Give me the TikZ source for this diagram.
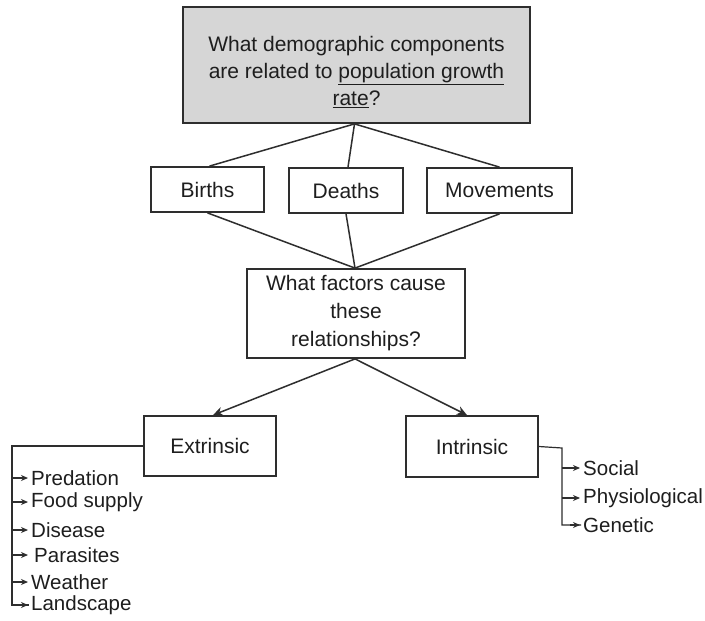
\documentclass[tikz,border=0pt]{standalone}
\usepackage{fontspec}
\setmainfont{Liberation Sans}
\usetikzlibrary{arrows.meta}
\definecolor{linec}{HTML}{2E2E2E}
\definecolor{topfill}{HTML}{D6D6D6}
\definecolor{txt}{HTML}{1E1E1E}
\begin{document}
\begin{tikzpicture}[x=1pt,y=-1pt,
  box/.style={draw=linec, line width=1.8pt, inner sep=2pt, align=center, text=txt,
    font=\fontsize{21}{28}\selectfont},
  conn/.style={draw=linec, line width=1.5pt},
  bigarrow/.style={conn, -{Stealth[length=10pt,width=9pt]}},
  smallarrow/.style={conn, line width=1.2pt, -{Stealth[length=7pt,width=6pt]}},
  item/.style={anchor=west, inner sep=0pt, text=txt, font=\fontsize{20.5}{24}\selectfont}
]
\useasboundingbox[fill=white] (0,0) rectangle (705,621);

% boxes
\node[box, fill=topfill, minimum width=347pt, minimum height=116pt] (q1) at (356.5,65) {};
\node[inner sep=0pt, align=center, text=txt, font=\fontsize{21}{27}\selectfont] (q1t) at (356.5,72)
  {What demographic components\\are related to \underline{population growth}\\\underline{rate}?};
\node[box, minimum width=113pt, minimum height=45pt] (births) at (207.5,189.5) {Births};
\node[box, minimum width=114pt, minimum height=45pt] (deaths) at (346,190.5) {Deaths};
\node[box, minimum width=145pt, minimum height=45pt] (moves) at (499.5,190.5) {Movements};
\node[box, minimum width=218pt, minimum height=89pt] (q2) at (356,313.5)
  {What factors cause\\these\\relationships?};
\node[box, minimum width=132pt, minimum height=60pt] (ext) at (210,446) {Extrinsic};
\node[box, minimum width=132pt, minimum height=61pt] (intr) at (472,446.5) {Intrinsic};

% top connectors
\draw[conn] ([xshift=-2pt]q1.south) -- ([xshift=2pt]births.north);
\draw[conn] ([xshift=-2pt]q1.south) -- ([xshift=2pt]deaths.north);
\draw[conn] ([xshift=-2pt]q1.south) -- (moves.north);
\draw[conn] (births.south) -- ([xshift=-1pt]q2.north);
\draw[conn] (deaths.south) -- ([xshift=-1pt]q2.north);
\draw[conn] (moves.south) -- ([xshift=-1pt]q2.north);

% arrows to extrinsic / intrinsic
\draw[bigarrow] ([xshift=-1pt]q2.south) -- ([xshift=3pt]ext.north);
\draw[bigarrow] ([xshift=-1pt]q2.south) -- ([xshift=-5pt]intr.north);

% extrinsic list
\node[item] (pred) at (31,478) {Predation};
\node[item] (food) at (31,502) {Food supply};
\node[item] (dis)  at (31,530) {Disease};
\node[item] (para) at (34,555) {Parasites};
\node[item] (weat) at (31,582) {Weather};
\node[item] (land) at (31,605) {Landscape};
\coordinate (ec) at (12,446);
\draw[conn, line width=1.2pt] (ext.west) -- (ec) |- ([xshift=-2pt]land.west);
\draw[smallarrow] (12,478) -- ([xshift=-3pt]pred.west);
\draw[smallarrow] (12,502) -- ([xshift=-3pt]food.west);
\draw[smallarrow] (12,530) -- ([xshift=-3pt]dis.west);
\draw[smallarrow] (12,555) -- ([xshift=-6pt]para.west);
\draw[smallarrow] (12,582) -- ([xshift=-3pt]weat.west);
\draw[smallarrow] (20,605) -- ([xshift=-3pt]land.west);

% intrinsic list
\node[item] (soc)  at (583,468) {Social};
\node[item] (phys) at (583,498) {Physiological};
\node[item] (gen)  at (583,525) {Genetic};
\coordinate (ic) at (562,448);
\draw[conn, line width=1.2pt] (intr.east) -- (ic) |- ([xshift=-2pt]gen.west);
\draw[smallarrow] (562,468) -- ([xshift=-3pt]soc.west);
\draw[smallarrow] (562,498) -- ([xshift=-3pt]phys.west);
\draw[smallarrow] (570,525) -- ([xshift=-3pt]gen.west);
\end{tikzpicture}
\end{document}
